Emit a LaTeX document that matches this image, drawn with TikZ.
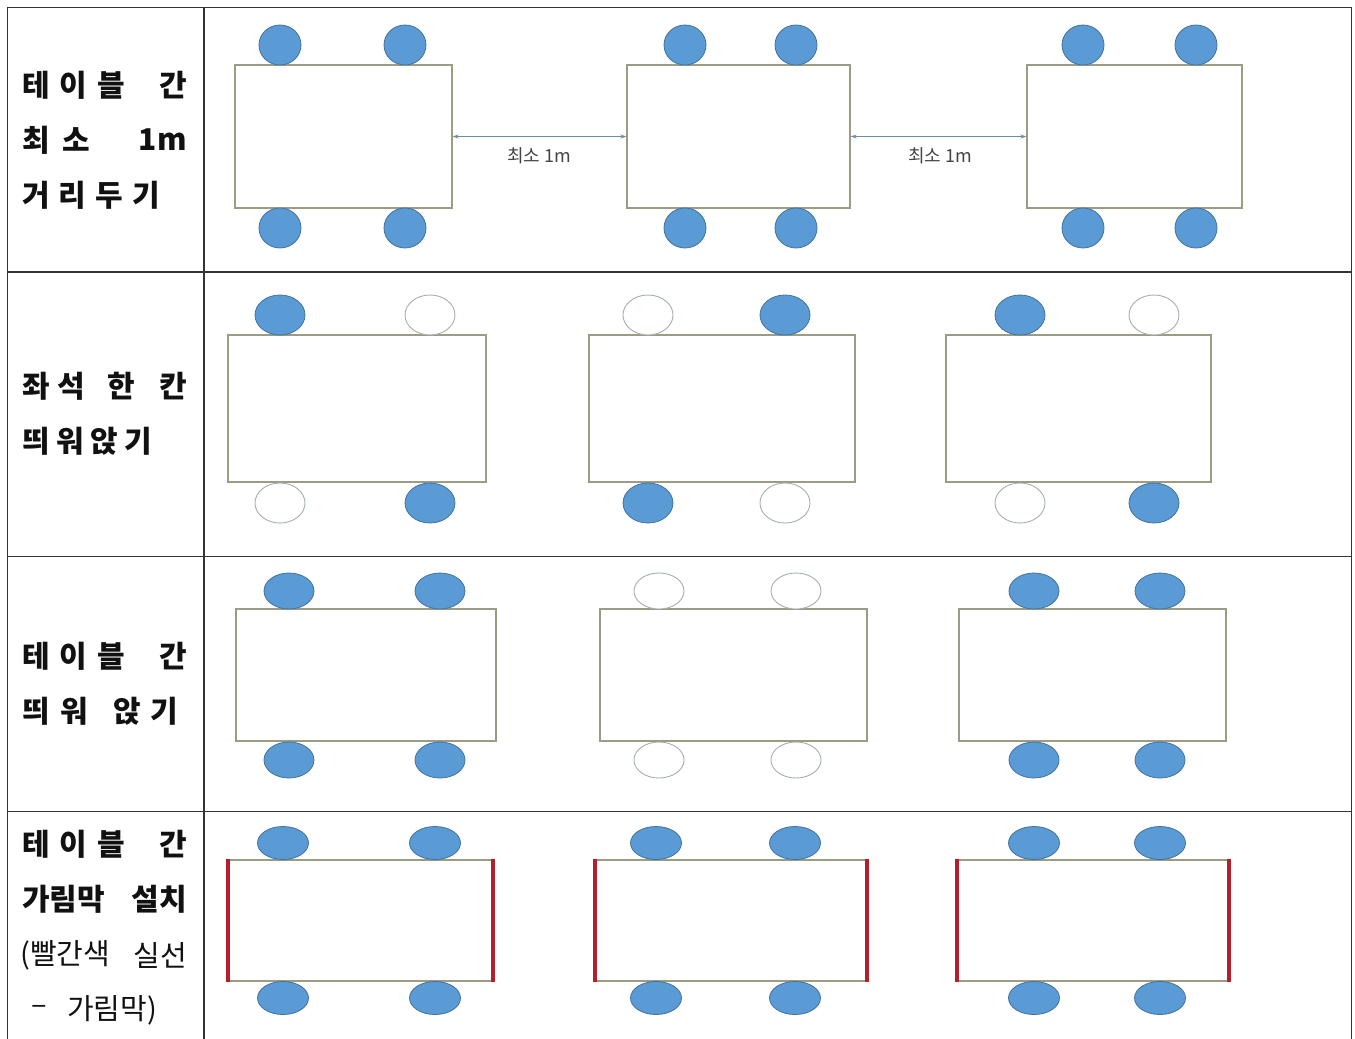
\documentclass[tikz,border=0pt]{standalone}
\usepackage{fontspec}
\newfontfamily\kr{Noto Sans CJK KR}
\usetikzlibrary{shapes.geometric,arrows.meta}
\definecolor{grid}{HTML}{333333}
\definecolor{tbl}{HTML}{9C9C84}
\definecolor{chairfill}{HTML}{5B9BD5}
\definecolor{chairline}{HTML}{41719C}
\definecolor{emptyline}{HTML}{A3B0B0}
\definecolor{screen}{HTML}{B51E2A}
\definecolor{arrowc}{HTML}{6E8F9A}
\definecolor{lblc}{HTML}{444444}
\definecolor{txt}{HTML}{111111}
\newcommand\spreadw[2]{\makebox[#1][s]{#2}}
\begin{document}
\begin{tikzpicture}[x=1pt,y=-1pt,
  gridline/.style={grid,line width=1.4pt},
  tablebox/.style={draw=tbl,line width=1.1pt,fill=white,rectangle,inner sep=0pt},
  chair/.style={ellipse,draw=chairline,fill=chairfill,line width=0.8pt,inner sep=0pt},
  emptychair/.style={ellipse,draw=emptyline,fill=white,line width=0.9pt,inner sep=0pt},
  ca/.style={minimum width=42pt,minimum height=40pt},
  cb/.style={minimum width=50pt,minimum height=40pt},
  cc/.style={minimum width=50pt,minimum height=36pt},
  cd/.style={minimum width=51pt,minimum height=33pt},
  cell/.style={inner sep=0pt,text=txt,font=\kr\bfseries\fontsize{30}{34}\selectfont},
  cellreg/.style={inner sep=0pt,text=txt,font=\kr\fontsize{29}{32}\selectfont},
  dist/.style={draw=arrowc,line width=0.9pt,{Stealth[length=6pt,width=4pt]}-{Stealth[length=6pt,width=4pt]}},
  distlbl/.style={inner sep=0pt,text=lblc,font=\kr\fontsize{18}{20}\selectfont},
  redscreen/.style={draw=screen,line width=4pt}]
\useasboundingbox (0,0) rectangle (1355,1039);
% grid
\draw[gridline] (7.5,1039) -- (7.5,7.5) -- (1351.5,7.5) -- (1351.5,1039);
\draw[gridline] (204,7.5) -- (204,1039);
\draw[gridline] (7.5,272) -- (1351.5,272);
\draw[gridline] (7.5,556.5) -- (1351.5,556.5);
\draw[gridline] (7.5,811.5) -- (1351.5,811.5);

% ---------- left column text ----------
\node[cell,anchor=west] (l1a) at (22,85) {\spreadw{103pt}{테\hfil 이\hfil 블}};
\node[cell,anchor=east] (l1b) at (187,85) {간};
\node[cell,anchor=west] (l1c) at (22,140) {\spreadw{68pt}{최\hfil 소}};
\node[cell,anchor=east] (l1d) at (187,140) {1m};
\node[cell,anchor=west] (l1e) at (22,195) {\spreadw{138pt}{거\hfil 리\hfil 두\hfil 기}};

\node[cell,anchor=west] (l2a) at (22,386) {\spreadw{63pt}{좌\hfil 석}};
\node[cell] (l2b) at (121,386) {한};
\node[cell,anchor=east] (l2c) at (187,386) {칸};
\node[cell,anchor=west] (l2d) at (22,441) {\spreadw{130pt}{띄\hfil 워\hfil 앉\hfil 기}};

\node[cell,anchor=west] (l3a) at (22,656) {\spreadw{103pt}{테\hfil 이\hfil 블}};
\node[cell,anchor=east] (l3b) at (187,656) {간};
\node[cell,anchor=west] (l3c) at (22,711) {\spreadw{66pt}{띄\hfil 워}};
\node[cell,anchor=west] (l3d) at (113,711) {\spreadw{65pt}{앉\hfil 기}};

\node[cell,anchor=west] (l4a) at (22,844) {\spreadw{103pt}{테\hfil 이\hfil 블}};
\node[cell,anchor=east] (l4b) at (187,844) {간};
\node[cell,anchor=west] (l4c) at (22,899) {가림막};
\node[cell,anchor=east] (l4d) at (187,899) {설치};
\node[cellreg,anchor=west] (l4e) at (20,955) {(빨간색};
\node[cellreg,anchor=east] (l4f) at (187,955) {실선};
\node[cellreg,anchor=west] (l4g) at (31,1010) {–};
\node[cellreg,anchor=west] (l4h) at (67,1010) {가림막)};

% ---------- row 1 ----------
\node[tablebox,minimum width=217pt,minimum height=143pt] (t11) at (343.5,136.5) {};
\node[tablebox,minimum width=223pt,minimum height=143pt] (t12) at (738.5,136.5) {};
\node[tablebox,minimum width=215pt,minimum height=143pt] (t13) at (1134.5,136.5) {};
\foreach \x/\n in {280/a,405/b,685/c,796/d,1083/e,1196/f}{
  \node[chair,ca] (c1t\n) at (\x,45) {};
  \node[chair,ca] (c1b\n) at (\x,228) {};
}
\draw[dist] (t11.east) -- (t12.west);
\draw[dist] (t12.east) -- (t13.west);
\node[distlbl] (d1) at (539,156) {최소 1m};
\node[distlbl] (d2) at (940,156) {최소 1m};

% ---------- row 2 ----------
\node[tablebox,minimum width=258pt,minimum height=147pt] (t21) at (357,408.5) {};
\node[tablebox,minimum width=266pt,minimum height=147pt] (t22) at (722,408.5) {};
\node[tablebox,minimum width=265pt,minimum height=147pt] (t23) at (1078.5,408.5) {};
\node[chair,cb] (c2ta) at (280,315) {};
\node[emptychair,cb] (c2tb) at (430,315) {};
\node[emptychair,cb] (c2ba) at (280,503) {};
\node[chair,cb] (c2bb) at (430,503) {};
\node[emptychair,cb] (c2tc) at (648,315) {};
\node[chair,cb] (c2td) at (785,315) {};
\node[chair,cb] (c2bc) at (648,503) {};
\node[emptychair,cb] (c2bd) at (785,503) {};
\node[chair,cb] (c2te) at (1020,315) {};
\node[emptychair,cb] (c2tf) at (1154,315) {};
\node[emptychair,cb] (c2be) at (1020,503) {};
\node[chair,cb] (c2bf) at (1154,503) {};

% ---------- row 3 ----------
\node[tablebox,minimum width=260pt,minimum height=132pt] (t31) at (366,675) {};
\node[tablebox,minimum width=267pt,minimum height=132pt] (t32) at (733.5,675) {};
\node[tablebox,minimum width=267pt,minimum height=132pt] (t33) at (1092.5,675) {};
\foreach \x/\n in {289/a,440/b,1034/e,1160/f}{
  \node[chair,cc] (c3t\n) at (\x,591) {};
  \node[chair,cc] (c3b\n) at (\x,760) {};
}
\foreach \x/\n in {659/c,796/d}{
  \node[emptychair,cc] (c3t\n) at (\x,591) {};
  \node[emptychair,cc] (c3b\n) at (\x,760) {};
}

% ---------- row 4 ----------
\node[tablebox,minimum width=263pt,minimum height=121pt] (t41) at (360.5,920.5) {};
\node[tablebox,minimum width=270pt,minimum height=121pt] (t42) at (731,920.5) {};
\node[tablebox,minimum width=270pt,minimum height=121pt] (t43) at (1093,920.5) {};
\foreach \t in {t41,t42,t43}{
  \draw[redscreen] (\t.north west) -- (\t.south west);
  \draw[redscreen] (\t.north east) -- (\t.south east);
}
\foreach \x/\n in {283/a,435/b,656/c,795/d,1034/e,1160/f}{
  \node[chair,cd] (c4t\n) at (\x,843) {};
  \node[chair,cd] (c4b\n) at (\x,998) {};
}
\end{tikzpicture}
\end{document}
